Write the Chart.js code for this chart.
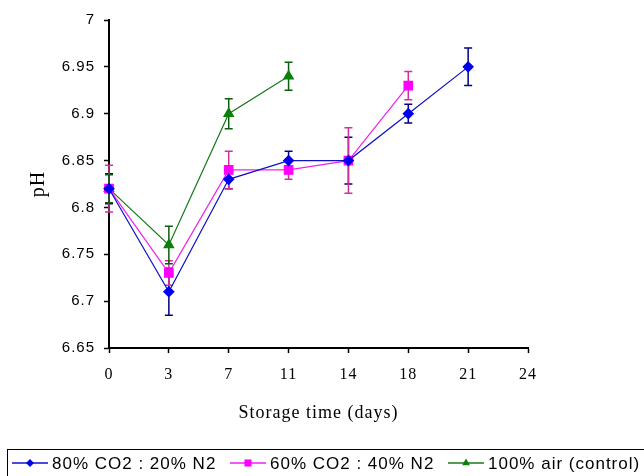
<!DOCTYPE html>
<html>
<head>
<meta charset="utf-8">
<script src="https://cdn.jsdelivr.net/npm/chart.js@4"></script>
<style>
  html, body { margin: 0; padding: 0; background: #fff; }
  canvas { display: block; }
</style>
</head>
<body>
<canvas id="phChart" width="644" height="476"></canvas>
<script>
// storage days (x categories)
const days = ['0', '3', '7', '11', '14', '18', '21', '24'];

// pH values per atmosphere
const co2_80 = [6.82, 6.71, 6.83, 6.85, 6.85, 6.90, 6.95, null];
const co2_60 = [6.82, 6.73, 6.84, 6.84, 6.85, 6.93, null, null];
const air100 = [6.82, 6.76, 6.90, 6.94, null, null, null, null];

// standard deviations (error bars)
const co2_80Err = [0.016, 0.025, 0.01, 0.01, 0.025, 0.01, 0.02, null];
const co2_60Err = [0.025, 0.013, 0.02, 0.01, 0.035, 0.015, null, null];
const air100Err = [0.015, 0.02, 0.016, 0.015, null, null, null, null];

const seriesNames = ['80% CO2 : 20% N2', '60% CO2 : 40% N2', '100% air (control)'];

// y axis ticks
const yMin = 6.65;
const yMax = 7;
const yStep = 0.05;

// error bars drawn through the chart scales
const errorBars = {
    id: 'errorBars',
    beforeDatasetsDraw(chart) {
        const ctx = chart.ctx;
        const yScale = chart.scales.y;
        chart.data.datasets.forEach((ds, i) => {
            const meta = chart.getDatasetMeta(i);
            ctx.save();
            ctx.strokeStyle = ds.errorColor;
            ctx.lineWidth = 1.5;
            ds.data.forEach((v, j) => {
                const e = ds.errors[j];
                if (v === null || e === null || e === undefined) return;
                const x = meta.data[j].x;
                const yTop = yScale.getPixelForValue(v + e);
                const yBot = yScale.getPixelForValue(v - e);
                ctx.beginPath();
                ctx.moveTo(x, yTop);
                ctx.lineTo(x, yBot);
                ctx.moveTo(x - 4, yTop);
                ctx.lineTo(x + 4, yTop);
                ctx.moveTo(x - 4, yBot);
                ctx.lineTo(x + 4, yBot);
                ctx.stroke();
            });
            ctx.restore();
        });
    }
};

// spaced-out lettering like the original
const spacing = {
    id: 'spacing',
    beforeDraw(chart) { chart.ctx.letterSpacing = '1px'; },
    afterDraw(chart) { chart.ctx.letterSpacing = '0px'; }
};

// boxed legend along the bottom: line + marker + label
const boxLegend = {
    id: 'boxLegend',
    afterDraw(chart) {
        const ctx = chart.ctx;
        const top = 449;
        const rowY = 463;
        ctx.save();
        ctx.strokeStyle = '#000';
        ctx.lineWidth = 1;
        ctx.strokeRect(7.5, top + 0.5, 660, 40);
        ctx.font = '17px "Liberation Sans", Arial, sans-serif';
        ctx.letterSpacing = '1px';
        ctx.textBaseline = 'middle';
        ctx.fillStyle = '#000';
        chart.data.datasets.forEach((ds, i) => {
            const x0 = 12 + i * 218;
            ctx.strokeStyle = ds.borderColor;
            ctx.lineWidth = 1.5;
            ctx.beginPath();
            ctx.moveTo(x0, rowY);
            ctx.lineTo(x0 + 36, rowY);
            ctx.stroke();
            ctx.fillStyle = ds.pointBackgroundColor;
            Chart.helpers.drawPoint(ctx, {
                pointStyle: ds.pointStyle,
                radius: ds.pointRadius - 1,
                rotation: 0,
                borderWidth: 0
            }, x0 + 18, rowY);
            ctx.fillStyle = '#000';
            ctx.fillText(ds.label, x0 + 40, rowY + 1);
        });
        ctx.restore();
    }
};

const ctx = document.getElementById('phChart').getContext('2d');
new Chart(ctx, {
    type: 'line',
    data: {
        labels: days,
        datasets: [
            {
                label: seriesNames[0],
                data: co2_80,
                errors: co2_80Err,
                borderColor: '#1010c8',
                errorColor: '#000080',
                pointBackgroundColor: '#0000ee',
                pointBorderColor: '#0000ee',
                pointStyle: 'rectRot',
                pointRadius: 5,
                borderWidth: 1.2,
                tension: 0
            },
            {
                label: seriesNames[1],
                data: co2_60,
                errors: co2_60Err,
                borderColor: '#ee22ee',
                errorColor: '#d0309a',
                pointBackgroundColor: '#ff00ff',
                pointBorderColor: '#ff00ff',
                pointStyle: 'rect',
                pointRadius: 6,
                borderWidth: 1.2,
                tension: 0
            },
            {
                label: seriesNames[2],
                data: air100,
                errors: air100Err,
                borderColor: '#1a7a1a',
                errorColor: '#0b5e0b',
                pointBackgroundColor: '#0a800a',
                pointBorderColor: '#0a800a',
                pointStyle: 'triangle',
                pointRadius: 5.5,
                borderWidth: 1.2,
                tension: 0
            }
        ]
    },
    options: {
        responsive: false,
        animation: false,
        devicePixelRatio: 1,
        layout: {
            padding: { left: 0, right: 116, top: 20, bottom: 28 }
        },
        scales: {
            x: {
                type: 'category',
                offset: false,
                afterFit: (scale) => { scale.height = 100; },
                grid: {
                    drawOnChartArea: false,
                    drawTicks: true,
                    tickLength: 5,
                    tickWidth: 1.5,
                    tickColor: '#000'
                },
                border: { display: true, color: '#000', width: 2 },
                ticks: {
                    color: '#000',
                    padding: 12,
                    maxRotation: 0,
                    autoSkip: false,
                    font: { family: '"Liberation Serif", "Times New Roman", serif', size: 16 }
                },
                title: {
                    display: true,
                    text: 'Storage time (days)',
                    color: '#000',
                    font: { family: '"Liberation Serif", "Times New Roman", serif', size: 18 },
                    padding: { top: 4, bottom: 24 }
                }
            },
            y: {
                min: yMin,
                max: yMax,
                afterFit: (scale) => { scale.width = 109; },
                grid: {
                    drawOnChartArea: false,
                    drawTicks: true,
                    tickLength: 5,
                    tickWidth: 1.5,
                    tickColor: '#000'
                },
                border: { display: true, color: '#000', width: 2 },
                ticks: {
                    stepSize: yStep,
                    color: '#000',
                    padding: 9,
                    font: { family: '"Liberation Sans", Arial, sans-serif', size: 15 },
                    callback: (v) => String(Number(v.toFixed(2)))
                },
                title: {
                    display: true,
                    text: 'pH',
                    color: '#000',
                    font: { family: '"Liberation Serif", "Times New Roman", serif', size: 20 },
                    padding: { top: 27, bottom: 0 }
                }
            }
        },
        plugins: {
            legend: { display: false },
            tooltip: { enabled: false }
        }
    },
    plugins: [spacing, errorBars, boxLegend]
});
</script>
</body>
</html>
